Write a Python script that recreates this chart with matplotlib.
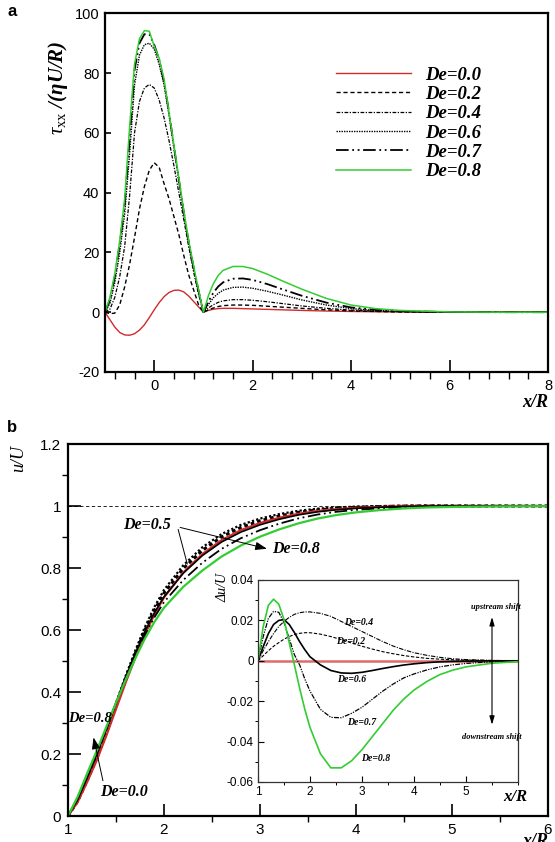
import numpy as np
import matplotlib
matplotlib.use('Agg')
import matplotlib.pyplot as plt
from matplotlib.ticker import MultipleLocator, FixedLocator

plt.rcParams['font.family'] = 'Liberation Sans'
plt.rcParams['axes.unicode_minus'] = False
plt.rcParams['mathtext.fontset'] = 'custom'
plt.rcParams['mathtext.rm'] = 'Liberation Serif'
plt.rcParams['mathtext.it'] = 'Liberation Serif:italic'
plt.rcParams['mathtext.bf'] = 'Liberation Serif:bold:italic'

RED = '#d22a2a'
GREEN = '#33cc33'
SERIF = 'Liberation Serif'

# ---- panel a: tau_xx along the axis ----
XA = [-1.0, -0.9, -0.8, -0.7, -0.6, -0.5, -0.4, -0.3, -0.2, -0.1, 0.0, 0.1, 0.2, 0.3, 0.4, 0.5,
      0.6, 0.7, 0.8, 0.9, 1.0, 1.1, 1.2, 1.3, 1.4, 1.6, 1.8, 2.0, 2.3, 2.6, 3.0, 3.5, 4.0, 4.5,
      5.0, 6.0, 7.0, 8.0]
TAU_DE00 = [0, -2.5, -5, -6.8, -7.6, -7.7, -7.2, -6, -4.2, -1.8, 0.8, 3.2, 5.2, 6.6, 7.3, 7.4,
            6.8, 5.4, 3.6, 1.8, 0, 0.6, 1.0, 1.2, 1.3, 1.3, 1.2, 1.1, 0.95, 0.8, 0.6, 0.4, 0.25, 0.15,
            0.08, 0.02, 0, 0]
TAU_DE02 = [0, -0.5, -0.3, 2.5, 8.5, 16, 25, 34.5, 42, 47.5, 50, 48.5, 43, 38, 32, 26,
            19, 12.5, 7.5, 2.5, 0, 0.8, 1.4, 1.9, 2.2, 2.4, 2.4, 2.3, 2.0, 1.7, 1.3, 0.8, 0.45, 0.25,
            0.1, 0, 0, 0]
TAU_DE04 = [0, 1, 5, 12, 22, 39, 60, 70.5, 75, 76.2, 75, 71, 65, 57.5, 49, 40,
            31, 22, 13.5, 6, 0, 1.4, 2.5, 3.3, 3.8, 4.2, 4.2, 4.0, 3.5, 2.9, 2.1, 1.3, 0.7, 0.35,
            0.15, 0, 0, 0]
TAU_DE06 = [0, 3, 10, 20, 33, 53, 76, 86, 89.5, 90, 88, 83, 76, 66, 55, 44,
            33, 23, 14.5, 7, 0, 2.6, 4.8, 6.3, 7.4, 8.3, 8.4, 8.0, 7.0, 5.8, 4.1, 2.4, 1.2, 0.6,
            0.3, 0.05, 0, 0]
TAU_DE07 = [0, 4, 12, 23, 36, 58, 81, 90, 93, 93, 89.5, 84.5, 77, 67, 55.5, 44.5,
            33.5, 23.5, 15, 7.2, 0, 3.5, 6.5, 8.6, 10, 11.2, 11.3, 10.8, 9.4, 7.7, 5.5, 3.2, 1.6, 0.8,
            0.4, 0.05, 0, 0]
TAU_DE08 = [0, 5, 13, 24, 38, 62, 83, 91.5, 94.2, 94, 89, 85, 78, 67, 56, 45,
            34, 24, 15.5, 7.5, 0, 5.5, 9.5, 12.3, 14, 15.3, 15.3, 14.6, 12.7, 10.5, 7.7, 4.6, 2.4, 1.2,
            0.6, 0.1, 0, 0]
LABELS_A = ['De=0.0', 'De=0.2', 'De=0.4', 'De=0.6', 'De=0.7', 'De=0.8']

# ---- panel b: u/U and the shift relative to De=0 ----
XB = [1.0, 1.1, 1.2, 1.3, 1.4, 1.5, 1.6, 1.7, 1.8, 1.9, 2.0, 2.2, 2.4, 2.6, 2.8, 3.0, 3.2, 3.4,
      3.6, 3.8, 4.0, 4.25, 4.5, 4.75, 5.0, 5.5, 6.0]
U_DE00 = [0, 0.045, 0.11, 0.18, 0.26, 0.345, 0.43, 0.51, 0.585, 0.65, 0.705, 0.785, 0.845, 0.89,
          0.922, 0.945, 0.962, 0.975, 0.984, 0.99, 0.994, 0.997, 0.999, 1.0, 1.0, 1.0, 1.0]
DU_DE02 = [0, 0.0025, 0.005, 0.0072, 0.009, 0.0107, 0.012, 0.013, 0.0136, 0.0139, 0.0139, 0.0132,
           0.012, 0.0105, 0.0088, 0.0072, 0.0058, 0.0045, 0.0035, 0.0026, 0.0019, 0.0012, 0.0008,
           0.0005, 0.0003, 0.0001, 0]
DU_DE04 = [0, 0.005, 0.0095, 0.0135, 0.017, 0.0195, 0.0215, 0.023, 0.0238, 0.0242, 0.0242, 0.0235,
           0.022, 0.0195, 0.017, 0.0145, 0.012, 0.0095, 0.0073, 0.0055, 0.004, 0.0027, 0.0017,
           0.001, 0.0006, 0.0002, 0]
DU_DE06 = [0, 0.007, 0.0135, 0.018, 0.020, 0.0204, 0.018, 0.014, 0.0095, 0.0055, 0.002, -0.002,
           -0.0048, -0.006, -0.0062, -0.0057, -0.0048, -0.0038, -0.0029, -0.0021, -0.0015, -0.0009,
           -0.0005, -0.0003, -0.0002, 0, 0]
DU_DE07 = [0, 0.012, 0.021, 0.0245, 0.024, 0.019, 0.011, 0.003, -0.002, -0.009, -0.015, -0.024,
           -0.028, -0.0282, -0.026, -0.023, -0.019, -0.015, -0.0115, -0.0085, -0.0065, -0.0045,
           -0.003, -0.002, -0.0013, -0.0005, -0.0002]
DU_DE08 = [0, 0.017, 0.0275, 0.0305, 0.028, 0.0205, 0.009, -0.002, -0.0135, -0.024, -0.033, -0.046,
           -0.053, -0.053, -0.0495, -0.044, -0.0375, -0.031, -0.0245, -0.019, -0.0145, -0.0102,
           -0.0068, -0.0046, -0.003, -0.0012, -0.0004]

YTICKS_B = [0, 0.2, 0.4, 0.6, 0.8, 1.0, 1.2]
YTICKLABELS_B = ['0', '0.2', '0.4', '0.6', '0.8', '1', '1.2']
YTICKS_IN = [-0.06, -0.04, -0.02, 0, 0.02, 0.04]
YTICKLABELS_IN = ['-0.06', '-0.04', '-0.02', '0', '0.02', '0.04']

STYLES = {'De=0.0': dict(color=RED, ls='-', lw=1.0),
          'De=0.2': dict(color='k', ls=(0, (3, 2)), lw=1.0),
          'De=0.4': dict(color='k', ls=(0, (3, 1.2, 1, 1.2)), lw=0.9),
          'De=0.6': dict(color='k', ls=(0, (1, 0.8)), lw=1.0),
          'De=0.7': dict(color='k', ls=(0, (7, 2, 1, 2, 1, 2)), lw=1.3),
          'De=0.8': dict(color=GREEN, ls='-', lw=1.1)}

W, H = 555, 842
fig = plt.figure(figsize=(W / 100, H / 100), dpi=100)


def box(l, t, r, b):
    return [l / W, 1 - b / H, (r - l) / W, (b - t) / H]


# ---------------- panel a ----------------
ax = fig.add_axes(box(105, 13.3, 548, 372))
for lab, ys in zip(LABELS_A, [TAU_DE00, TAU_DE02, TAU_DE04, TAU_DE06, TAU_DE07, TAU_DE08]):
    ax.plot(XA, ys, label=lab, **STYLES[lab])
ax.set_xlim(-1, 8)
ax.set_ylim(-20, 100)
ax.set_xticks([0, 2, 4, 6, 8])
ax.xaxis.set_minor_locator(MultipleLocator(0.4))
ax.set_yticks([-20, 0, 20, 40, 60, 80, 100])
ax.tick_params(direction='in', labelsize=10.5, top=False, right=False)
ax.tick_params(axis='x', which='major', length=9, width=1.2, pad=5)
ax.tick_params(axis='x', which='minor', length=5, width=1.0)
ax.tick_params(axis='y', which='major', length=4, width=1.2, pad=4)
for s in ax.spines.values():
    s.set_linewidth(1.6)
leg = ax.legend(loc='upper left', bbox_to_anchor=(0.501, 0.878), frameon=False,
                handlelength=4.0, handletextpad=0.75, labelspacing=0.12, borderpad=0,
                prop=dict(family=SERIF, weight='bold', style='italic', size=13.5))
fig.text(58 / W, 1 - 88 / H, r'$\tau_{\rm xx}$ /(ηU/R)', rotation=90, ha='center', va='center',
         family=SERIF, weight='bold', style='italic', fontsize=15)
fig.text(548 / W, 1 - 403 / H, 'x/R', ha='right', va='center', family=SERIF, weight='bold',
         style='italic', fontsize=13)
fig.text(12 / W, 1 - 12 / H, 'a', ha='center', va='center', fontsize=12, weight='bold')

# ---------------- panel b ----------------
bx = fig.add_axes(box(68, 444, 548, 816))
u = np.array(U_DE00)
bx.axhline(1.0, color='k', lw=0.6, ls=(0, (4, 3)), zorder=1)
bx.plot(XB, u + np.array(DU_DE02), color='k', ls=(0, (1.2, 1.0)), lw=2.2)
bx.plot(XB, u + np.array(DU_DE04), color='k', ls=(0, (1, 1)), lw=1.6)
bx.plot(XB, u, color=RED, lw=1.6)
bx.plot(XB, u + np.array(DU_DE06), color='k', lw=1.2)
bx.plot(XB, u + np.array(DU_DE07), color='k', ls=(0, (7, 2, 1, 2, 1, 2)), lw=1.3)
bx.plot(XB, u + np.array(DU_DE08), color=GREEN, lw=1.6)
bx.set_xlim(1, 6)
bx.set_ylim(0, 1.2)
bx.set_xticks([1, 2, 3, 4, 5, 6])
bx.xaxis.set_minor_locator(MultipleLocator(0.5))
bx.set_yticks(YTICKS_B)
bx.set_yticklabels(YTICKLABELS_B)
bx.yaxis.set_minor_locator(MultipleLocator(0.1))
bx.tick_params(direction='in', labelsize=11, top=False, right=False)
bx.tick_params(which='major', length=9, width=1.2, pad=5)
bx.tick_params(which='minor', length=4.5, width=1.0)
for s in bx.spines.values():
    s.set_linewidth(1.6)

ann = dict(family=SERIF, weight='bold', style='italic')
bx.text(1.82, 0.94, 'De=0.5', ha='center', va='center', fontsize=11.5, **ann)
bx.annotate('', xy=(2.25, 0.804), xytext=(2.14, 0.933),
            arrowprops=dict(arrowstyle='-', lw=0.7, color='k'))
bx.annotate('', xy=(3.10, 0.860), xytext=(2.14, 0.933),
            arrowprops=dict(arrowstyle='-|>,head_length=0.7,head_width=0.25', lw=0.7, color='k'))
bx.text(3.13, 0.86, 'De=0.8', ha='left', va='center', fontsize=11.5, **ann)
bx.text(1.0, 0.315, 'De=0.8', ha='left', va='center', fontsize=10.5, **ann)
bx.annotate('', xy=(1.26, 0.262), xytext=(1.37, 0.105),
            arrowprops=dict(arrowstyle='-|>,head_length=0.7,head_width=0.25', lw=0.7, color='k'))
bx.text(1.33, 0.078, 'De=0.0', ha='left', va='center', fontsize=11.5, **ann)

fig.text(19 / W, 1 - 458 / H, 'u/U', rotation=90, ha='center', va='center',
         family=SERIF, style='italic', fontsize=13)
fig.text(548 / W, 1 - 833 / H, 'x/R', ha='right', va='top', family=SERIF, weight='bold',
         style='italic', fontsize=13)
fig.text(12 / W, 1 - 428 / H, 'b', ha='center', va='center', fontsize=12, weight='bold')

# ---------------- inset ----------------
ix = fig.add_axes(box(258, 580, 518, 782))
ix.axhline(0, color='#e06a6a', lw=1.8, zorder=1)
ix.plot(XB, DU_DE02, color='k', ls=(0, (3, 1.5)), lw=0.8)
ix.plot(XB, DU_DE04, color='k', ls=(0, (4, 1.2, 1, 1.2)), lw=0.8)
ix.plot(XB, DU_DE06, color='k', lw=1.2)
ix.plot(XB, DU_DE07, color='k', ls=(0, (4, 1, 1, 1, 1, 1)), lw=0.9)
ix.plot(XB, DU_DE08, color=GREEN, lw=1.2)
ix.set_xlim(1, 6)
ix.set_ylim(-0.06, 0.04)
ix.xaxis.set_major_locator(FixedLocator([1, 2, 3, 4, 5]))
ix.xaxis.set_minor_locator(MultipleLocator(0.5))
ix.set_yticks(YTICKS_IN)
ix.set_yticklabels(YTICKLABELS_IN)
ix.yaxis.set_minor_locator(MultipleLocator(0.01))
ix.tick_params(direction='in', labelsize=8.5, top=False, right=False)
ix.tick_params(which='major', length=4, width=0.8, pad=3)
ix.tick_params(which='minor', length=2, width=0.7)
for s in ix.spines.values():
    s.set_linewidth(0.9)
    s.set_color('#333333')

small = dict(family=SERIF, weight='bold', style='italic', fontsize=7)
ix.text(2.93, 0.019, 'De=0.4', ha='center', va='center', **small)
ix.text(2.79, 0.0097, 'De=0.2', ha='center', va='center', **small)
ix.text(2.80, -0.0093, 'De=0.6', ha='center', va='center', **small)
ix.text(3.00, -0.0306, 'De=0.7', ha='center', va='center', **small)
ix.text(3.26, -0.0486, 'De=0.8', ha='center', va='center', **small)
ix.annotate('', xy=(5.5, 0.023), xytext=(5.5, -0.033),
            arrowprops=dict(arrowstyle='<|-|>,head_length=0.5,head_width=0.15', lw=0.8, color='k'))
ix.text(5.58, 0.0266, 'upstream shift', ha='center', va='center', family=SERIF,
        weight='bold', style='italic', fontsize=6)
ix.text(5.5, -0.0376, 'downstream shift', ha='center', va='center', family=SERIF,
        weight='bold', style='italic', fontsize=6)
fig.text(223 / W, 1 - 588 / H, 'Δu/U', rotation=90, ha='center', va='center',
         family=SERIF, style='italic', fontsize=10)
fig.text(527 / W, 1 - 797 / H, 'x/R', ha='right', va='center', family=SERIF, weight='bold',
         style='italic', fontsize=12)

fig.savefig('out.png', dpi=100)
